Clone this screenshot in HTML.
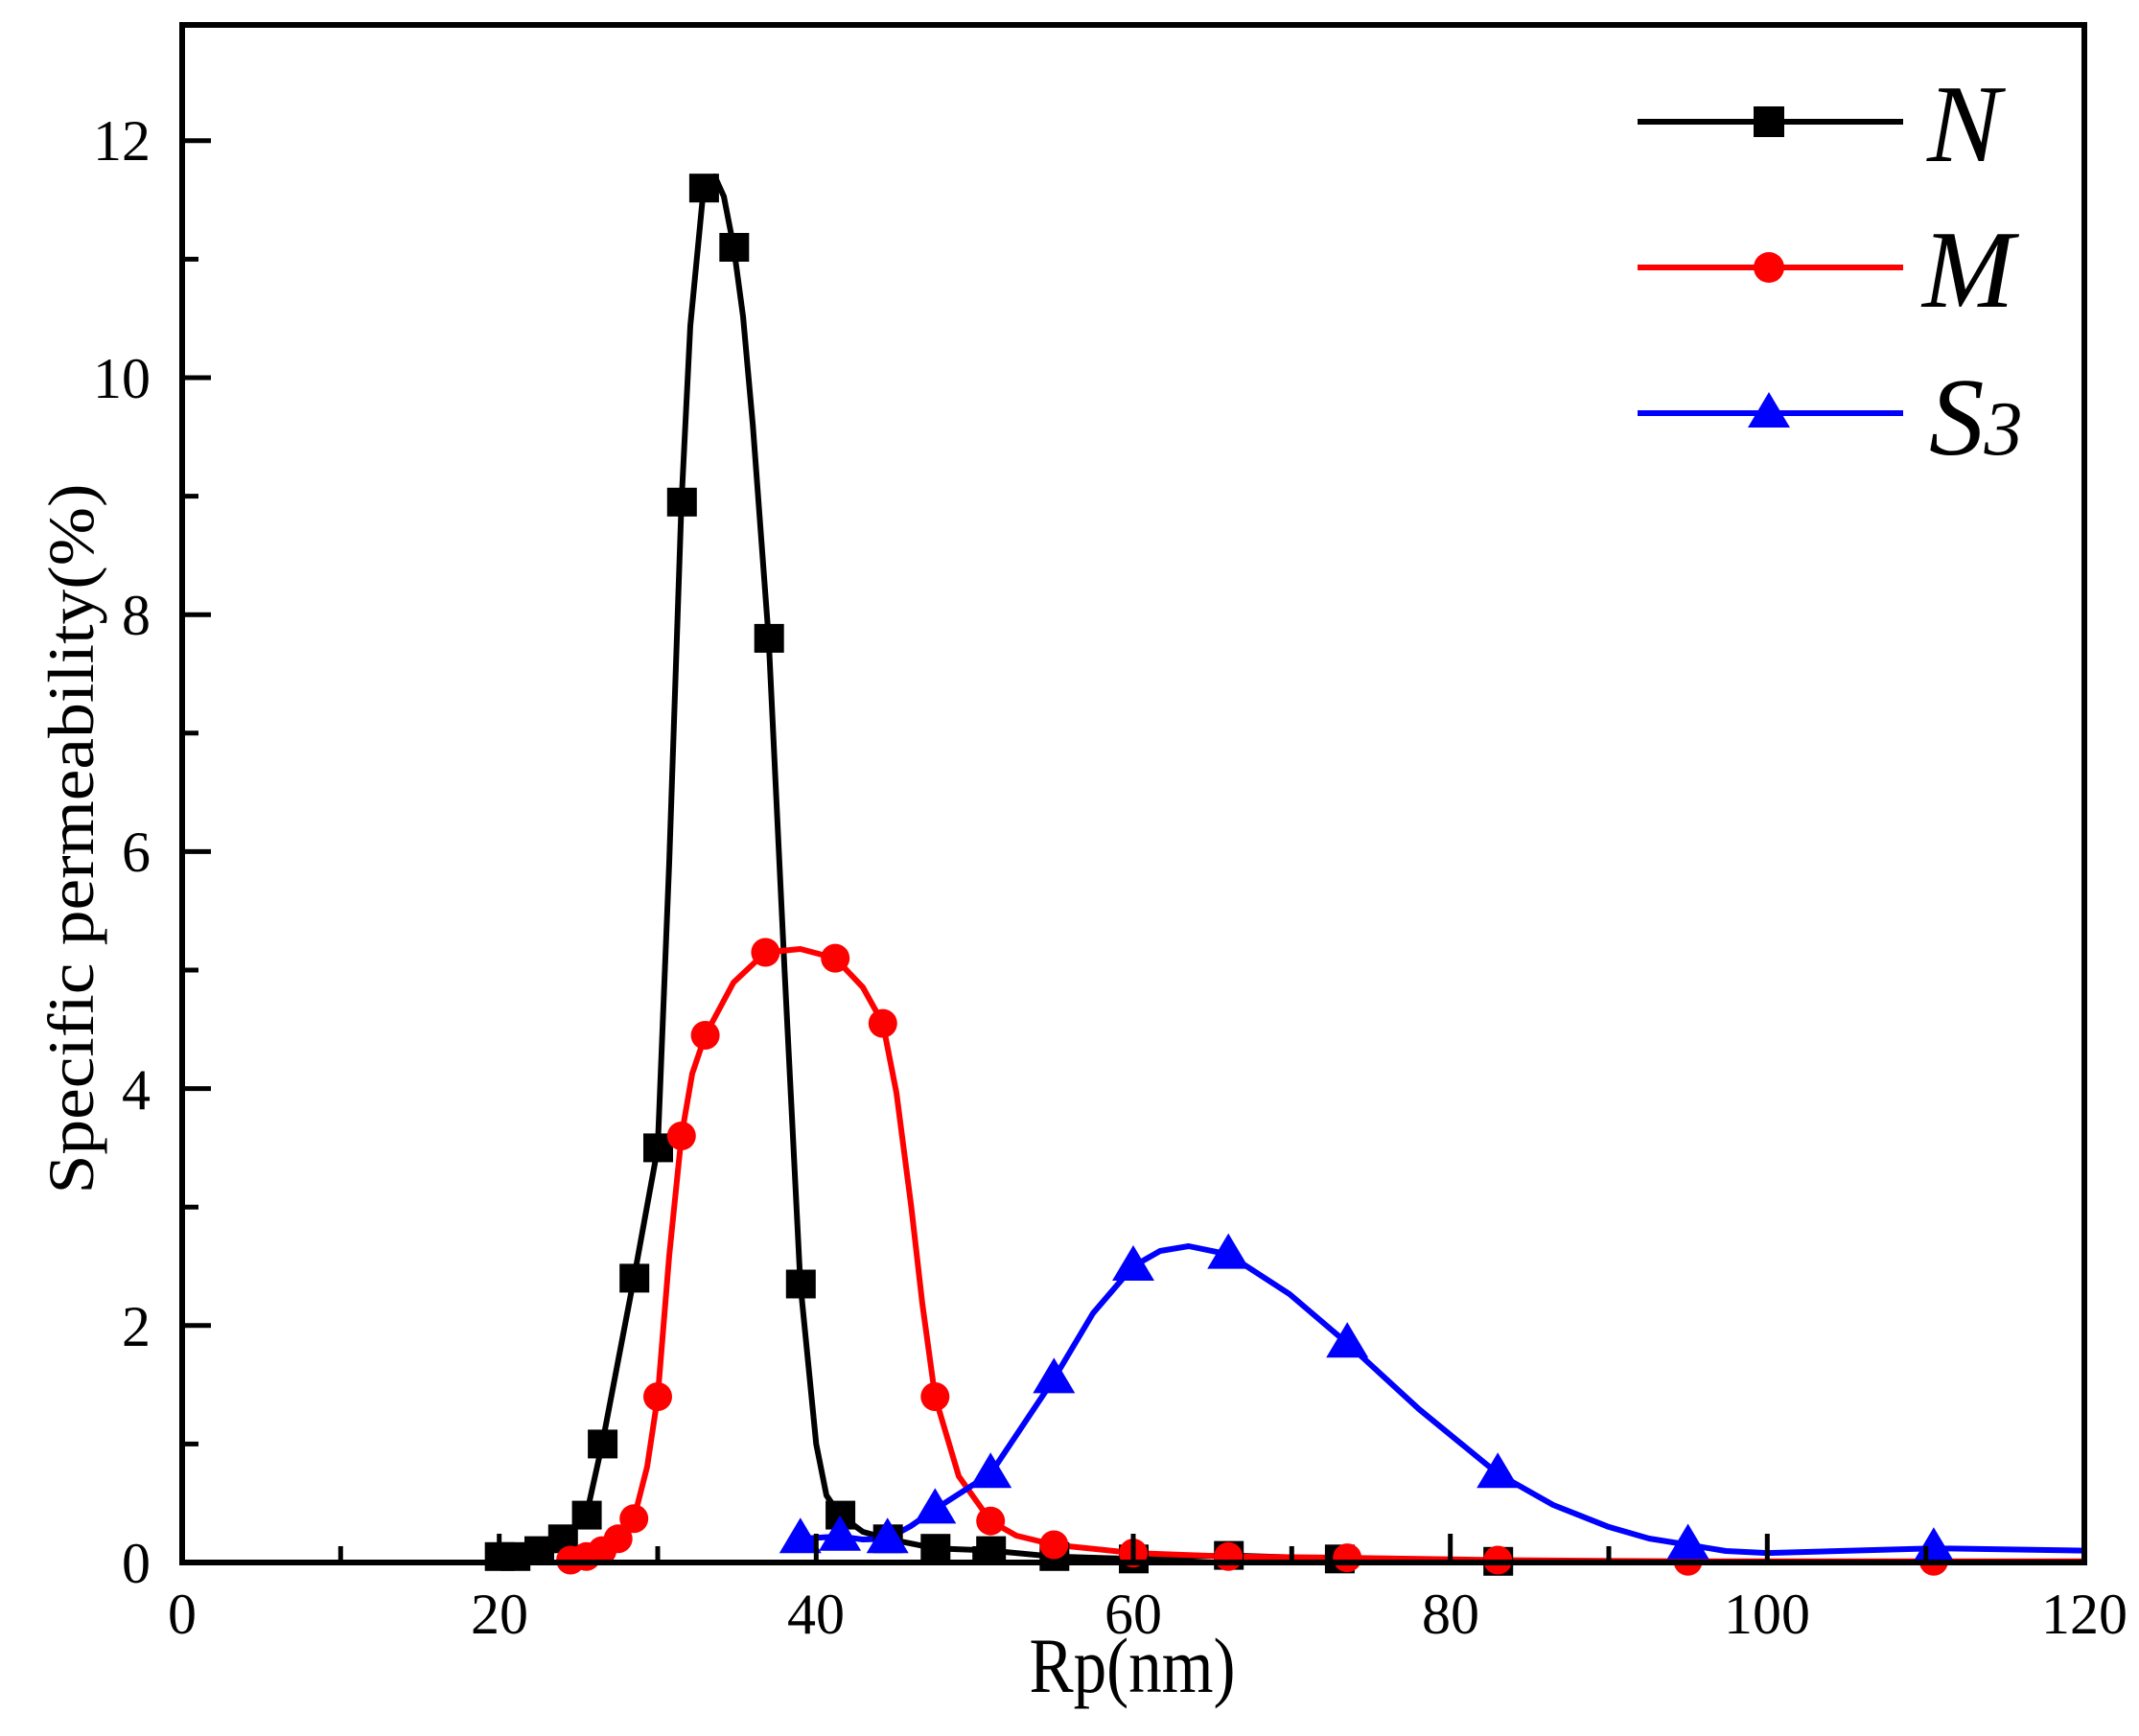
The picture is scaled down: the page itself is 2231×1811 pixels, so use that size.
<!DOCTYPE html>
<html><head><meta charset="utf-8"><style>html,body{margin:0;padding:0;background:#fff}svg{display:block}</style></head>
<body>
<svg width="2231" height="1811" viewBox="0 0 2231 1811" xmlns="http://www.w3.org/2000/svg" font-family="Liberation Serif, serif">
<rect width="2231" height="1811" fill="#fff"/>
<g fill="none" stroke-width="6" stroke-linejoin="round">
<polyline stroke="#000" points="520.7,1623.8 537.2,1623.8 562,1617.6 586.8,1605.3 611.6,1580.6 628.1,1506.4 661.2,1333.4 686,1197.4 698,900 710.8,523.8 720,340 733.9,196.2 745.5,184 755,205 765.3,258 775,330 785.2,443.4 801.7,665.9 818.3,1012 834.8,1339.5 851.3,1506.4 862,1560 876.1,1580.6 900,1598 925.7,1605.3 975.3,1615.2 1033.2,1617.6 1099.3,1623.8 1182,1626.3 1281.2,1622.6 1396.9,1626.3 1562.2,1628.8"/>
<polyline stroke="#f00" points="595.1,1627.5 611.6,1623.8 628.1,1617.6 644.7,1605.3 661.2,1584.3 675,1530 686,1457 698,1310 710.8,1185 722,1120 735.6,1080 765,1025 798.4,993.5 834.8,990 871.2,999.6 900,1030 920.8,1067.6 935,1140 950.5,1259.2 962,1360 975.3,1457 1000,1540 1033.2,1586.7 1060,1602 1099.3,1611.5 1182,1620.1 1281.2,1623.8 1405.2,1625.1 1562.2,1627.5 1760.6,1628.8 2016.9,1628.8 2174,1628.8"/>
<polyline stroke="#00f" points="834.8,1605.3 876.1,1602.8 900,1606 925.7,1605.3 950,1592 975.3,1574.4 1033.2,1537.3 1099.3,1438.4 1140,1370 1182,1321 1210,1305 1239.8,1300 1281.2,1308.6 1345,1350 1405.2,1401.3 1480,1470 1562.2,1537.3 1620,1570 1678,1592.9 1720,1605 1760.6,1611.5 1800,1618 1843.3,1620.1 2016.9,1615.2 2174,1617.6"/>
</g>
<g fill="#000">
<rect x="505.7" y="1608.8" width="31" height="30"/><rect x="522.2" y="1608.8" width="31" height="30"/><rect x="547" y="1602.6" width="31" height="30"/><rect x="571.8" y="1590.3" width="31" height="30"/><rect x="596.6" y="1565.6" width="31" height="30"/><rect x="613.1" y="1491.4" width="31" height="30"/><rect x="646.2" y="1318.4" width="31" height="30"/><rect x="671" y="1182.4" width="31" height="30"/><rect x="695.8" y="508.8" width="31" height="30"/><rect x="718.9" y="181.2" width="31" height="30"/><rect x="750.3" y="243" width="31" height="30"/><rect x="786.7" y="650.9" width="31" height="30"/><rect x="819.8" y="1324.5" width="31" height="30"/><rect x="861.1" y="1565.6" width="31" height="30"/><rect x="910.7" y="1590.3" width="31" height="30"/><rect x="960.3" y="1600.2" width="31" height="30"/><rect x="1018.2" y="1602.6" width="31" height="30"/><rect x="1084.3" y="1608.8" width="31" height="30"/><rect x="1167" y="1611.3" width="31" height="30"/><rect x="1266.2" y="1607.6" width="31" height="30"/><rect x="1381.9" y="1611.3" width="31" height="30"/><rect x="1547.2" y="1613.8" width="31" height="30"/>
</g>
<g fill="#f00">
<circle cx="595.1" cy="1627.5" r="15"/><circle cx="611.6" cy="1623.8" r="15"/><circle cx="628.1" cy="1617.6" r="15"/><circle cx="644.7" cy="1605.3" r="15"/><circle cx="661.2" cy="1584.3" r="15"/><circle cx="686" cy="1457" r="15"/><circle cx="710.8" cy="1185" r="15"/><circle cx="735.6" cy="1080" r="15"/><circle cx="798.4" cy="993.5" r="15"/><circle cx="871.2" cy="999.6" r="15"/><circle cx="920.8" cy="1067.6" r="15"/><circle cx="975.3" cy="1457" r="15"/><circle cx="1033.2" cy="1586.7" r="15"/><circle cx="1099.3" cy="1611.5" r="15"/><circle cx="1182" cy="1620.1" r="15"/><circle cx="1281.2" cy="1623.8" r="15"/><circle cx="1405.2" cy="1625.1" r="15"/><circle cx="1562.2" cy="1627.5" r="15"/><circle cx="1760.6" cy="1628.8" r="15"/><circle cx="2016.9" cy="1628.8" r="15"/>
</g>
<g fill="#00f">
<polygon points="834.8,1583.3 856.8,1620.3 812.8,1620.3"/><polygon points="876.1,1580.8 898.1,1617.8 854.1,1617.8"/><polygon points="925.7,1583.3 947.7,1620.3 903.7,1620.3"/><polygon points="975.3,1552.4 997.3,1589.4 953.3,1589.4"/><polygon points="1033.2,1515.3 1055.2,1552.3 1011.2,1552.3"/><polygon points="1099.3,1416.4 1121.3,1453.4 1077.3,1453.4"/><polygon points="1182,1299 1204,1336 1160,1336"/><polygon points="1281.2,1286.6 1303.2,1323.6 1259.2,1323.6"/><polygon points="1405.2,1379.3 1427.2,1416.3 1383.2,1416.3"/><polygon points="1562.2,1515.3 1584.2,1552.3 1540.2,1552.3"/><polygon points="1760.6,1589.5 1782.6,1626.5 1738.6,1626.5"/><polygon points="2016.9,1593.2 2038.9,1630.2 1994.9,1630.2"/>
</g>
<rect x="190" y="26" width="1984" height="1604" fill="none" stroke="#000" stroke-width="6"/>
<g stroke="#000" stroke-width="5">
<line x1="190" y1="1630" x2="190" y2="1600"/><line x1="355.3" y1="1630" x2="355.3" y2="1613"/><line x1="520.7" y1="1630" x2="520.7" y2="1600"/><line x1="686" y1="1630" x2="686" y2="1613"/><line x1="851.3" y1="1630" x2="851.3" y2="1600"/><line x1="1016.7" y1="1630" x2="1016.7" y2="1613"/><line x1="1182" y1="1630" x2="1182" y2="1600"/><line x1="1347.3" y1="1630" x2="1347.3" y2="1613"/><line x1="1512.7" y1="1630" x2="1512.7" y2="1600"/><line x1="1678" y1="1630" x2="1678" y2="1613"/><line x1="1843.3" y1="1630" x2="1843.3" y2="1600"/><line x1="2008.7" y1="1630" x2="2008.7" y2="1613"/>
<line x1="190" y1="1506.4" x2="207" y2="1506.4"/><line x1="190" y1="1382.8" x2="220" y2="1382.8"/><line x1="190" y1="1259.2" x2="207" y2="1259.2"/><line x1="190" y1="1135.6" x2="220" y2="1135.6"/><line x1="190" y1="1012" x2="207" y2="1012"/><line x1="190" y1="888.4" x2="220" y2="888.4"/><line x1="190" y1="764.8" x2="207" y2="764.8"/><line x1="190" y1="641.2" x2="220" y2="641.2"/><line x1="190" y1="517.6" x2="207" y2="517.6"/><line x1="190" y1="394" x2="220" y2="394"/><line x1="190" y1="270.4" x2="207" y2="270.4"/><line x1="190" y1="146.8" x2="220" y2="146.8"/>
</g>
<g font-size="60" text-anchor="end" fill="#000">
<text x="157" y="1651">0</text>
<text x="157" y="1404">2</text>
<text x="157" y="1157">4</text>
<text x="157" y="909">6</text>
<text x="157" y="662">8</text>
<text x="157" y="415">10</text>
<text x="157" y="167">12</text>
</g>
<g font-size="60" text-anchor="middle" fill="#000">
<text x="190" y="1704">0</text>
<text x="521" y="1704">20</text>
<text x="851" y="1704">40</text>
<text x="1182" y="1704">60</text>
<text x="1513" y="1704">80</text>
<text x="1843" y="1704">100</text>
<text x="2174" y="1704">120</text>
</g>
<text x="1181" y="1765" font-size="82" text-anchor="middle" textLength="215" lengthAdjust="spacingAndGlyphs">Rp(nm)</text>
<text transform="translate(97,875) rotate(-90)" font-size="68" text-anchor="middle" textLength="741" lengthAdjust="spacingAndGlyphs">Specific permeability(%)</text>
<g stroke-width="6">
<line x1="1708" y1="127" x2="1985" y2="127" stroke="#000"/>
<line x1="1708" y1="279" x2="1985" y2="279" stroke="#f00"/>
<line x1="1708" y1="431" x2="1985" y2="431" stroke="#00f"/>
</g>
<rect x="1829" y="111" width="32" height="32" fill="#000"/>
<circle cx="1845" cy="279" r="16" fill="#f00"/>
<polygon points="1845,409 1867,446 1823,446" fill="#00f"/>
<g font-size="115" font-style="italic" fill="#000">
<text x="2010" y="168">N</text>
<text x="2005" y="320">M</text>
<text x="2012" y="474">S<tspan font-size="80">3</tspan></text>
</g>
</svg>
</body></html>
